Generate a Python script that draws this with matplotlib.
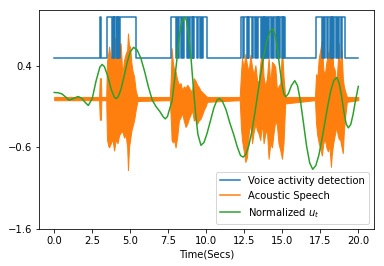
import matplotlib
matplotlib.use("Agg")
import matplotlib.pyplot as plt
import numpy as np

# Voice activity detection: high intervals (seconds); low level 0.5, high level 1.0
vad_low, vad_high = 0.5, 1.0
vad_intervals = [
    (3.0, 3.06), (3.46, 3.82), (3.86, 3.92), (3.96, 4.07), (4.11, 4.18), (4.22, 4.29), (4.33, 5.36),
    (7.65, 8.02), (8.08, 8.14), (8.2, 8.33), (8.38, 8.46), (8.52, 8.72), (8.78, 8.88), (8.94, 9.05),
    (9.1, 9.16), (9.22, 9.38), (9.44, 9.6), (9.66, 9.73), (9.79, 10.03),
    (12.3, 12.4), (12.46, 12.66), (12.72, 12.77), (12.83, 13.03), (13.09, 13.2), (13.26, 13.36),
    (13.42, 13.6), (13.66, 13.71), (13.77, 13.82), (13.88, 13.93), (13.99, 14.08), (14.14, 14.24),
    (14.3, 14.41), (14.47, 14.58), (14.64, 14.69), (14.75, 14.8), (14.86, 14.96), (15.02, 15.06),
    (15.1, 15.18),
    (17.22, 17.62), (17.68, 17.73), (17.79, 17.95), (18.01, 18.12), (18.18, 18.24), (18.3, 18.34),
    (18.4, 18.52), (18.58, 18.69), (18.75, 18.85), (18.91, 19.15),
]
t_start, t_end = 0.0, 20.0

# Acoustic speech envelope (time, upper, lower)
speech_t = [0.0, 2.95, 3.0, 3.07, 3.1, 3.42, 3.47, 3.55, 3.61, 3.72, 3.83, 3.94, 4.05, 4.16, 4.27,
            4.37, 4.48, 4.59, 4.7, 4.8, 4.85, 4.92, 4.99, 5.07, 5.14, 5.25, 5.36, 5.47,
            7.6, 7.68, 7.72, 7.8, 7.87, 7.98, 8.09, 8.2, 8.31, 8.42, 8.52, 8.64, 8.75, 8.85, 8.96,
            9.07, 9.18, 9.29, 9.4, 9.51, 9.62, 9.73, 9.84, 9.95, 10.06,
            12.2, 12.28, 12.35, 12.46, 12.57, 12.68, 12.79, 12.9, 13.01, 13.11, 13.23, 13.34, 13.44,
            13.55, 13.67, 13.77, 13.88, 13.99, 14.1, 14.21, 14.32, 14.43, 14.54, 14.65, 14.75, 14.87,
            14.98, 15.08, 15.19,
            17.15, 17.22, 17.3, 17.4, 17.5, 17.6, 17.7, 17.8, 17.9, 18.0, 18.1, 18.2, 18.25, 18.35,
            18.45, 18.55, 18.65, 18.72, 18.8, 18.9, 18.98, 19.05, 19.15, 19.25, 20.0]
speech_hi = [0.02, 0.02, 0.25, 0.25, 0.02, 0.02, 0.45, 0.55, 0.64, 0.47, 0.56, 0.76, 0.72, 0.43, 0.6,
             0.68, 0.29, 0.47, 0.55, 0.6, 0.8, 0.65, 0.64, 0.45, 0.35, 0.27, 0.1, 0.02,
             0.02, 0.3, 0.62, 0.45, 0.37, 0.33, 0.23, 0.17, 0.19, 0.10, 0.15, 0.13, 0.17, 0.14, 0.10,
             0.10, 0.25, 0.22, 0.17, 0.14, 0.10, 0.08, 0.06, 0.04, 0.02,
             0.02, 0.3, 0.5, 0.37, 0.55, 0.41, 0.33, 0.54, 0.39, 0.29, 0.41, 0.23, 0.19,
             0.43, 0.6, 0.27, 0.15, 0.25, 0.5, 0.17, 0.45, 0.43, 0.39, 0.1, 0.15, 0.19,
             0.62, 0.27, 0.02,
             0.02, 0.3, 0.25, 0.5, 0.6, 0.72, 0.35, 0.3, 0.45, 0.55, 0.6, 1.0, 0.7, 0.4,
             0.35, 0.15, 0.45, 0.68, 0.35, 0.6, 0.25, 0.15, 0.08, 0.02, 0.02]
speech_lo = [-0.02, -0.02, -0.26, -0.26, -0.02, -0.02, -0.5, -0.58, -0.6, -0.55, -0.5, -0.64, -0.5, -0.55, -0.45,
             -0.42, -0.4, -0.48, -0.45, -0.6, -0.88, -0.6, -0.51, -0.4, -0.35, -0.27, -0.14, -0.03,
             -0.02, -0.3, -0.51, -0.54, -0.5, -0.6, -0.47, -0.27, -0.23, -0.18, -0.27, -0.35, -0.31, -0.25, -0.2,
             -0.14, -0.27, -0.25, -0.31, -0.27, -0.25, -0.2, -0.14, -0.1, -0.04,
             -0.02, -0.35, -0.51, -0.64, -0.78, -0.72, -0.43, -0.3, -0.55, -0.42, -0.31, -0.39, -0.43,
             -0.51, -0.3, -0.55, -0.43, -0.39, -0.74, -0.55, -0.6, -0.42, -0.27, -0.33, -0.55, -0.64,
             -0.74, -0.55, -0.06,
             -0.02, -0.3, -0.45, -0.55, -0.62, -0.7, -0.55, -0.5, -0.6, -0.65, -0.58, -0.84, -0.7, -0.55,
             -0.45, -0.35, -0.45, -0.5, -0.5, -0.6, -0.67, -0.4, -0.2, -0.04, -0.02]

# Normalized u_t
green_t = [0, 0.25, 0.5, 0.75, 0.98, 1.25, 1.57, 1.8, 2.0, 2.24, 2.5, 2.75, 3.0, 3.15, 3.3, 3.5, 3.75,
           3.95, 4.07, 4.2, 4.4, 4.6, 4.8, 5.0, 5.22, 5.45, 5.7, 5.95, 6.2, 6.45, 6.7, 6.95, 7.15, 7.3,
           7.45, 7.6, 7.75, 7.9, 8.05, 8.2, 8.35, 8.5, 8.59, 8.7, 8.85, 9.0, 9.15, 9.3, 9.45, 9.65,
           9.85, 10.05, 10.25, 10.5, 10.7, 10.85, 11.05, 11.3, 11.55, 11.8, 12.05, 12.25, 12.42, 12.6,
           12.8, 13.0, 13.2, 13.4, 13.6, 13.8, 14.0, 14.2, 14.37, 14.55, 14.7, 14.85, 15.0, 15.1, 15.22,
           15.4, 15.6, 15.82, 16.0, 16.2, 16.4, 16.6, 16.8, 17.0, 17.2, 17.4, 17.6, 17.8, 18.0, 18.2,
           18.4, 18.58, 18.75, 18.9, 19.05, 19.2, 19.34, 19.5, 19.65, 19.8, 20.0]
green_v = [0.075, 0.072, 0.058, 0.02, -0.02, 0.0, 0.025, 0.005, -0.04, -0.085, 0.0, 0.215, 0.386, 0.42,
           0.393, 0.287, 0.113, 0.018, 0.0, 0.02, 0.12, 0.277, 0.445, 0.575, 0.63, 0.6, 0.495, 0.33,
           0.14, -0.02, -0.1, -0.16, -0.22, -0.25, -0.22, -0.12, -0.03, 0.2, 0.45, 0.72, 0.92, 0.99,
           1.0, 0.96, 0.78, 0.49, 0.14, -0.19, -0.44, -0.575, -0.54, -0.43, -0.29, -0.115, -0.02, 0.0,
           -0.028, -0.137, -0.3, -0.44, -0.6, -0.70, -0.72, -0.687, -0.578, -0.4, -0.175, 0.078, 0.32,
           0.544, 0.72, 0.83, 0.86, 0.77, 0.585, 0.356, 0.155, 0.06, 0.02, 0.06, 0.16, 0.22, 0.16,
           -0.036, -0.31, -0.587, -0.79, -0.87, -0.826, -0.7, -0.51, -0.295, -0.08, 0.106, 0.225, 0.26,
           0.186, 0.027, -0.16, -0.31, -0.36, -0.32, -0.2, -0.04, 0.15]

y_ticks = [-1.6, -0.6, 0.4]

# build VAD step line
vad_x = [t_start]
vad_y = [vad_low]
for a, b in vad_intervals:
    vad_x += [a, a, b, b]
    vad_y += [vad_low, vad_high, vad_high, vad_low]
vad_x.append(t_end)
vad_y.append(vad_low)

fig = plt.figure(figsize=(384 / 72, 266 / 72), dpi=72)
ax = fig.add_axes([0.1016, 0.1405, 0.8711, 0.8205])

ax.plot(vad_x, vad_y, color='#1f77b4', lw=1.5, label='Voice activity detection')
ax.fill_between(speech_t, speech_lo, speech_hi, color='#ff7f0e', lw=1.0, edgecolor='#ff7f0e')
ax.plot([], [], color='#ff7f0e', lw=1.5, label='Acoustic Speech')
ax.plot(green_t, green_v, color='#2ca02c', lw=1.5, label='Normalized $u_t$')

ax.set_xlim(-1, 21)
ax.set_ylim(-1.6, 1.085)
ax.set_yticks(y_ticks)
ax.set_yticklabels(['\u22121.6', '\u22120.6', '0.4'])
ax.tick_params(labelsize=10)
ax.set_xlabel('Time(Secs)', fontsize=10)
ax.legend(loc='lower right', fontsize=10)

fig.savefig('out.png', dpi=72)
